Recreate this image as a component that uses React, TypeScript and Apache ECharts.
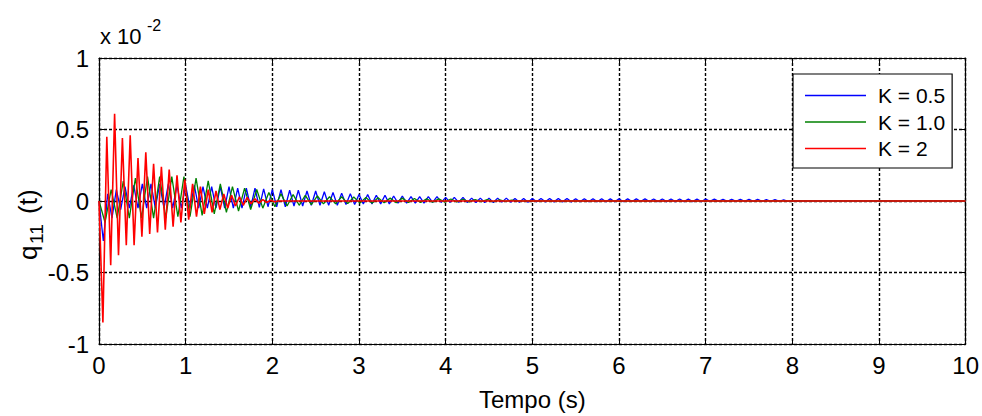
import { useEffect, useRef } from "react";
import * as echarts from "echarts";

// Time axis (s)
const X_TICKS = [0, 1, 2, 3, 4, 5, 6, 7, 8, 9, 10];
const Y_TICKS = [-1, -0.5, 0, 0.5, 1];
const T_END = 10;

// q11(t) values in units of 1e-2, alternating extrema
// K = 0.5 (blue), sampled every 0.05 s
const BLUE_STEP = 0.05;
const BLUE_K05 = [
  0, -0.28, 0.05, -0.12, 0.08, -0.06, 0.1, -0.05, 0.11, -0.05,
  0.12, -0.05, 0.12, -0.05, 0.12, -0.05, 0.12, -0.05, 0.11, -0.05,
  0.11, -0.05, 0.11, -0.05, 0.1, -0.05, 0.1, -0.05, 0.1, -0.05,
  0.1, -0.05, 0.09, -0.05, 0.09, -0.045, 0.09, -0.045, 0.085, -0.04,
  0.08, -0.04, 0.08, -0.04, 0.075, -0.035, 0.075, -0.035, 0.07, -0.03,
  0.07, -0.03, 0.065, -0.03, 0.06, -0.03, 0.055, -0.025, 0.05, -0.025,
  0.045, -0.02, 0.045, -0.02, 0.04, -0.02, 0.04, -0.02, 0.035, -0.015,
  0.035, -0.015, 0.03, -0.015, 0.03, -0.015, 0.03, -0.01, 0.03, -0.01,
  0.025, -0.01, 0.025, -0.01, 0.025, -0.01, 0.02, -0.01, 0.02, -0.01,
  0.02, -0.01, 0.02, -0.008, 0.02, -0.008, 0.018, -0.008, 0.018, -0.008,
  0.018, -0.006, 0.018, -0.006, 0.017, -0.006, 0.017, -0.006, 0.017, -0.006,
  0.016, -0.005, 0.016, -0.005, 0.016, -0.005, 0.016, -0.005, 0.015, -0.005,
  0.015, -0.005, 0.015, -0.004, 0.015, -0.004, 0.015, -0.004, 0.014, -0.004,
  0.014, -0.004, 0.014, -0.004, 0.014, -0.004, 0.013, -0.004, 0.013, -0.004,
  0.013, -0.003, 0.013, -0.003, 0.012, -0.003, 0.012, -0.003, 0.012, -0.003,
  0.011, -0.003, 0.011, -0.003, 0.01, -0.003, 0.01, -0.002, 0.008, -0.002,
  0,
];

// K = 1.0 (green), sampled every 0.07 s
const GREEN_STEP = 0.07;
const GREEN_K10 = [
  0, -0.15, 0.08, -0.12, 0.14, -0.12, 0.16, -0.12, 0.17, -0.12,
  0.17, -0.12, 0.17, -0.11, 0.17, -0.11, 0.16, -0.1, 0.14, -0.09,
  0.12, -0.08, 0.1, -0.07, 0.09, -0.06, 0.08, -0.05, 0.06, -0.04,
  0.05, -0.035, 0.045, -0.03, 0.04, -0.025, 0.035, -0.02, 0.03, -0.02,
  0.03, -0.018, 0.028, -0.015, 0.025, -0.015, 0.022, -0.012, 0.02, -0.012,
  0.02, -0.01, 0.018, -0.01, 0.016, -0.008, 0.015, -0.008, 0.014, -0.006,
  0.012, -0.006, 0.01, -0.005, 0.01, -0.004, 0.008, -0.003, 0.006, 0,
];

// K = 2 (red), sampled every 0.045 s
const RED_STEP = 0.045;
const RED_K2 = [
  0, -0.85, 0.45, -0.45, 0.61, -0.38, 0.44, -0.31, 0.46, -0.31,
  0.3, -0.25, 0.34, -0.23, 0.26, -0.22, 0.24, -0.2, 0.22, -0.18,
  0.18, -0.15, 0.15, -0.13, 0.12, -0.11, 0.1, -0.09, 0.08, -0.08,
  0.07, -0.06, 0.05, -0.05, 0.04, -0.035, 0.03, -0.03, 0.025, -0.02,
  0.015, -0.015, 0.01, -0.01, 0.005, -0.005, 0,
];

const NAMES = ["K = 0.5", "K = 1.0", "K = 2"];
const COLORS = ["#0000ff", "#008000", "#ff0000"];

const FONT = "'Liberation Sans', Arial, Helvetica, sans-serif";

function toPairs(step: number, vals: number[]): number[][] {
  const pts = vals.map((v, i) => [Math.round(i * step * 1000) / 1000, v]);
  pts.push([T_END, 0]);
  return pts;
}

export default function App() {
  const ref = useRef<HTMLDivElement>(null);

  useEffect(() => {
    if (!ref.current) return;
    const chart = echarts.init(ref.current, null, { renderer: "svg" });

    const axisLine = { show: true, onZero: false, lineStyle: { color: "#000", width: 1.2 } };
    const axisTick = { show: true, inside: true, length: 5, lineStyle: { color: "#000", width: 1 } };
    const splitLine = { show: true, lineStyle: { color: "#000", width: 1.4, type: [3, 2] as number[] } };

    const seriesData = [
      toPairs(BLUE_STEP, BLUE_K05),
      toPairs(GREEN_STEP, GREEN_K10),
      toPairs(RED_STEP, RED_K2),
    ];

    chart.setOption({
      animation: false,
      backgroundColor: "#fff",
      grid: { left: 99, right: 16, top: 58, bottom: 71, containLabel: false },
      xAxis: [
        {
          type: "value",
          min: X_TICKS[0],
          max: X_TICKS[X_TICKS.length - 1],
          interval: 1,
          position: "bottom",
          axisLine,
          axisTick,
          splitLine,
          axisLabel: { color: "#000", fontSize: 24, fontFamily: FONT, margin: 9 },
          name: "Tempo (s)",
          nameLocation: "middle",
          nameGap: 43,
          nameTextStyle: { color: "#000", fontSize: 24, fontFamily: FONT },
        },
        {
          type: "value",
          min: X_TICKS[0],
          max: X_TICKS[X_TICKS.length - 1],
          interval: 1,
          position: "top",
          axisLine,
          axisTick,
          splitLine: { show: false },
          axisLabel: { show: false },
        },
      ],
      yAxis: [
        {
          type: "value",
          min: Y_TICKS[0],
          max: Y_TICKS[Y_TICKS.length - 1],
          interval: 0.5,
          position: "left",
          axisLine,
          axisTick,
          splitLine,
          axisLabel: { color: "#000", fontSize: 24, fontFamily: FONT, margin: 10 },
        },
        {
          type: "value",
          min: Y_TICKS[0],
          max: Y_TICKS[Y_TICKS.length - 1],
          interval: 0.5,
          position: "right",
          axisLine,
          axisTick,
          splitLine: { show: false },
          axisLabel: { show: false },
        },
      ],
      legend: {
        data: NAMES,
        orient: "vertical",
        left: 793,
        top: 74,
        icon: "rect",
        itemWidth: 61,
        itemHeight: 1.5,
        itemGap: 5.5,
        padding: [11, 7, 9, 12],
        borderColor: "#000",
        borderWidth: 1.2,
        backgroundColor: "#fff",
        textStyle: { color: "#000", fontSize: 21, fontFamily: FONT, lineHeight: 21, padding: [0, 0, 0, 7] },
      },
      series: seriesData.map((d, i) => ({
        name: NAMES[i],
        type: "line",
        data: d,
        xAxisIndex: 0,
        yAxisIndex: 0,
        symbol: "none",
        showSymbol: false,
        lineStyle: { color: COLORS[i], width: i === 2 ? 1.6 : 1.3 },
        itemStyle: { color: COLORS[i] },
        z: 2 + i,
      })),
      graphic: [
        {
          type: "text",
          left: 100,
          top: 25,
          style: { text: "x 10", fill: "#000", fontSize: 22, fontFamily: FONT },
        },
        {
          type: "text",
          left: 147,
          top: 17,
          style: { text: "-2", fill: "#000", fontSize: 16, fontFamily: FONT },
        },
        {
          type: "group",
          x: 28,
          y: 214,
          rotation: Math.PI / 2,
          children: [
            {
              type: "text",
              x: -46,
              y: 0,
              style: { text: "q", fill: "#000", fontSize: 26, fontFamily: FONT, align: "left", verticalAlign: "middle" },
            },
            {
              type: "text",
              x: -30,
              y: 8,
              style: { text: "11", fill: "#000", fontSize: 19, fontFamily: FONT, align: "left", verticalAlign: "middle" },
            },
            {
              type: "text",
              x: 0,
              y: 0,
              style: { text: "(t)", fill: "#000", fontSize: 26, fontFamily: FONT, align: "left", verticalAlign: "middle" },
            },
          ],
        },
      ],
    });

    return () => chart.dispose();
  }, []);

  return (
    <div
      ref={ref}
      style={{ position: "fixed", left: 0, top: 0, width: 982, height: 416 }}
    />
  );
}
